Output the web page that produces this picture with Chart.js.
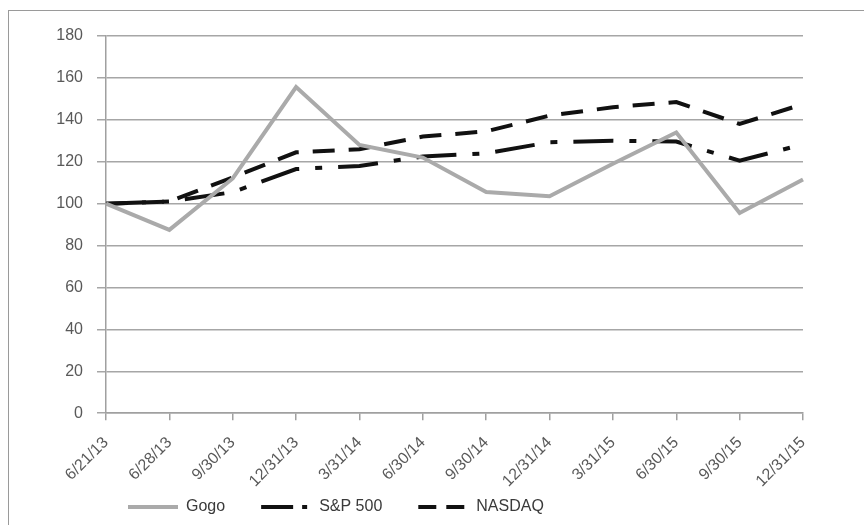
<!DOCTYPE html>
<html>
<head>
<meta charset="utf-8">
<script src="https://cdn.jsdelivr.net/npm/chart.js@4.4.1/dist/chart.umd.min.js"></script>
<style>
  html, body { margin: 0; padding: 0; background: #fff; overflow: hidden; }
  #frame { position: absolute; left: 8px; top: 10px; width: 900px; height: 600px; border: 1.5px solid #9a9a9a; }
  #wrap { position: absolute; left: 0; top: 0; width: 864px; height: 525px; }
</style>
</head>
<body>
<div id="frame"></div>
<div id="wrap"><canvas id="chartPerformance" width="864" height="525"></canvas></div>
<script>
var dates = ['6/21/13', '6/28/13', '9/30/13', '12/31/13', '3/31/14', '6/30/14',
    '9/30/14', '12/31/14', '3/31/15', '6/30/15', '9/30/15', '12/31/15'];
var gogo = [100, 87.5, 112, 155.6, 128, 122, 105.5, 103.5, 119, 134, 95.5, 111.5];
var sp500 = [100, 101, 105.5, 116.5, 118, 122.5, 124, 129.3, 130, 129.6, 120.5, 128.3];
var nasdaq = [100, 101, 112.5, 124.5, 126, 132, 134.5, 142, 146, 148.5, 138, 147.5];
var yTicks = [0, 180, 20];

var fontFamily = "'Liberation Sans', Arial, sans-serif";
var legendPad = 36;
var ctx = document.getElementById('chartPerformance').getContext('2d');

var chartData = {
    labels: dates,
    datasets: [{
        label: 'Gogo',
        data: gogo,
        borderColor: '#aaaaaa',
        backgroundColor: '#aaaaaa',
        borderWidth: 4,
        legendDash: []
    }, {
        label: 'S&P 500',
        data: sp500,
        borderColor: '#111111',
        backgroundColor: '#111111',
        borderWidth: 4,
        borderDash: [40, 16, 7, 16],
        legendDash: [32, 9, 5, 20]
    }, {
        label: 'NASDAQ',
        data: nasdaq,
        borderColor: '#111111',
        backgroundColor: '#111111',
        borderWidth: 4,
        borderDash: [22, 14],
        legendDash: [18, 10, 18, 30]
    }]
};

// move the legend row to where the original puts it, and let the
// rotated date labels run down into the empty space above the legend
var legendShift = {
    id: 'legendShift',
    afterLayout: function (chart) {
        chart.legend.left += 46;
        chart.scales.x.bottom = 495;
    }
};

var options = {
    responsive: false,
    animation: false,
    devicePixelRatio: 1,
    layout: {
        padding: { left: 46, right: 61, top: 36, bottom: 0 }
    },
    elements: {
        point: { radius: 0 },
        line: { tension: 0, borderCapStyle: 'butt', borderJoinStyle: 'miter' }
    },
    plugins: {
        tooltip: { enabled: false },
        legend: {
            position: 'bottom',
            align: 'start',
            labels: {
                usePointStyle: true,
                pointStyle: 'line',
                pointStyleWidth: 50,
                padding: legendPad,
                color: '#3a3a3a',
                font: { family: fontFamily, size: 16 },
                generateLabels: function (chart) {
                    var items = Chart.defaults.plugins.legend.labels.generateLabels(chart);
                    items.forEach(function (item) {
                        var ds = chart.data.datasets[item.datasetIndex];
                        item.lineDash = ds.legendDash;
                        item.lineWidth = 4;
                        item.strokeStyle = ds.borderColor;
                    });
                    return items;
                }
            }
        }
    },
    scales: {
        x: {
            offset: false,
            afterFit: function (scale) { scale.height = 85.8 - legendPad; },
            grid: {
                drawOnChartArea: false,
                drawTicks: true,
                tickLength: 7,
                color: '#a0a0a0',
                lineWidth: 1.5
            },
            border: { color: '#a0a0a0', width: 1.5 },
            ticks: {
                autoSkip: false,
                maxRotation: 45,
                minRotation: 45,
                padding: 13,
                color: '#595959',
                font: { family: fontFamily, size: 16 }
            }
        },
        y: {
            min: yTicks[0],
            max: yTicks[1],
            afterFit: function (scale) { scale.width = 60; },
            grid: {
                color: '#a6a6a6',
                lineWidth: 1.5,
                drawTicks: true,
                tickLength: 9
            },
            border: { color: '#a0a0a0', width: 1.5 },
            ticks: {
                stepSize: yTicks[2],
                padding: 14,
                color: '#595959',
                font: { family: fontFamily, size: 16 }
            }
        }
    }
};

var myChart = new Chart(ctx, {
    type: 'line',
    data: chartData,
    options: options,
    plugins: [legendShift]
});
</script>
</body>
</html>
